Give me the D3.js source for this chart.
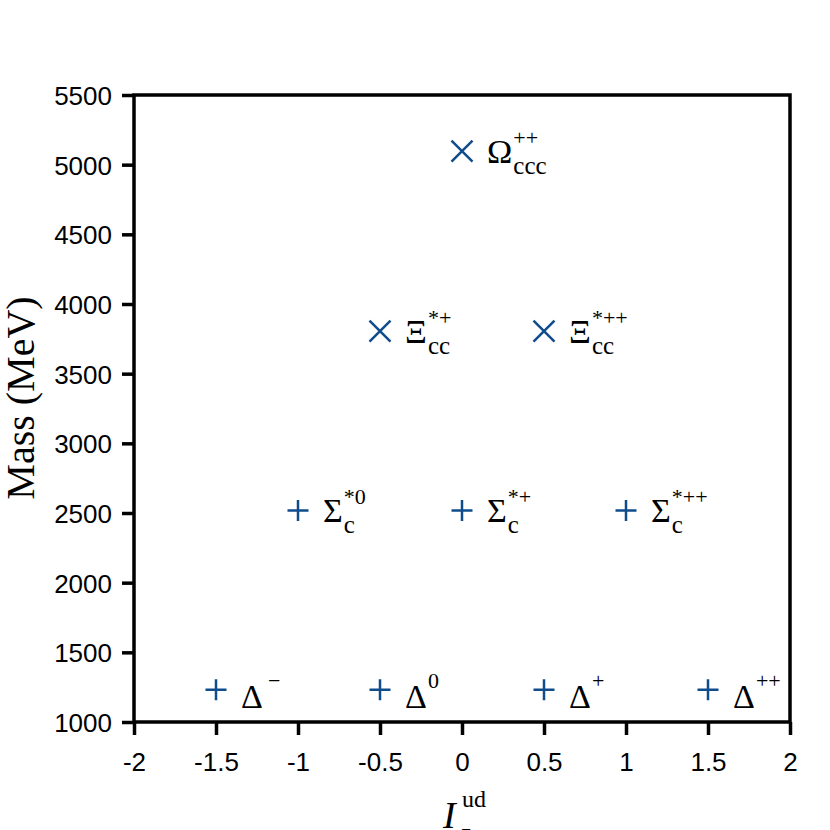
<!DOCTYPE html>
<html>
<head>
<meta charset="utf-8">
<script src="https://cdn.jsdelivr.net/npm/d3@7"></script>
<style>
  body { margin: 0; background: #fff; }
  .tick text { font-family: "Liberation Sans", Arial, sans-serif; font-size: 26px; fill: #000; }
</style>
</head>
<body>
<div id="chart"></div>
<script>
  // particle data: name, isospin component, mass (MeV)
  var baryons = ["Δ", "Δ", "Δ", "Δ", "Σ", "Σ", "Σ", "Ξ", "Ξ", "Ω"];
  var isospin = [-1.5, -0.5, 0.5, 1.5, -1, 0, 1, -0.5, 0.5, 0];
  var masses  = [1232, 1232, 1232, 1232, 2518, 2518, 2518, 3805, 3805, 5098];
  var sups    = ["\u2212", "0", "+", "++", "*0", "*+", "*++", "*+", "*++", "++"];
  var subs    = ["", "", "", "", "c", "c", "c", "cc", "cc", "ccc"];
  var markerType = ["plus", "plus", "plus", "plus", "plus", "plus", "plus", "cross", "cross", "cross"];

  var xTicks = [-2, -1.5, -1, -0.5, 0, 0.5, 1, 1.5, 2];
  var yTicks = [1000, 1500, 2000, 2500, 3000, 3500, 4000, 4500, 5000, 5500];

  var width = 830, height = 830;
  var plotLeft = 134, plotRight = 790, plotTop = 95, plotBottom = 722;
  var blue = "#0f4c8c";
  var serif = '"Liberation Serif", "Times New Roman", serif';

  var svg = d3.select('#chart').append('svg')
      .attr('width', width)
      .attr('height', height);

  var xScale = d3.scaleLinear().domain([-2, 2]).range([plotLeft, plotRight]);
  var yScale = d3.scaleLinear().domain([1000, 5500]).range([plotBottom, plotTop]);

  // axes
  var xAxis = d3.axisBottom(xScale)
      .tickValues(xTicks)
      .tickFormat(d => String(d))
      .tickSizeInner(13)
      .tickSizeOuter(0)
      .tickPadding(18);
  var yAxis = d3.axisLeft(yScale)
      .tickValues(yTicks)
      .tickFormat(d => String(d))
      .tickSizeInner(12)
      .tickSizeOuter(0)
      .tickPadding(10);

  var gx = svg.append('g')
      .attr('transform', 'translate(0,' + plotBottom + ')')
      .call(xAxis);
  var gy = svg.append('g')
      .attr('transform', 'translate(' + plotLeft + ',0)')
      .call(yAxis);
  gx.select('.domain').remove();
  gy.select('.domain').remove();
  svg.selectAll('.tick line').attr('stroke', '#000').attr('stroke-width', 3.5);
  gy.selectAll('.tick text').attr('dy', '0.36em');

  // frame
  svg.append('rect')
      .attr('x', plotLeft).attr('y', plotTop)
      .attr('width', plotRight - plotLeft).attr('height', plotBottom - plotTop)
      .attr('fill', 'none')
      .attr('stroke', '#000')
      .attr('stroke-width', 3.5);

  // axis titles
  svg.append('text')
      .attr('transform', 'translate(34,398) rotate(-90)')
      .attr('text-anchor', 'middle')
      .style('font-family', serif)
      .style('font-size', '40px')
      .text('Mass (MeV)');

  var xt = svg.append('g');
  xt.append('text')
      .attr('x', 443).attr('y', 828)
      .style('font-family', serif)
      .style('font-size', '38px')
      .style('font-style', 'italic')
      .text('I');
  xt.append('text')
      .attr('x', 462).attr('y', 807)
      .style('font-family', serif)
      .style('font-size', '24px')
      .text('ud');
  xt.append('text')
      .attr('x', 461).attr('y', 840)
      .style('font-family', serif)
      .style('font-size', '24px')
      .text('z');

  // markers
  var pts = d3.range(baryons.length);
  var s = 10.5;
  svg.selectAll('path.marker')
      .data(pts)
      .enter()
      .append('path')
        .attr('class', 'marker')
        .attr('transform', i => 'translate(' + xScale(isospin[i]) + ',' + yScale(masses[i]) + ')')
        .attr('d', i => markerType[i] === 'plus'
            ? 'M' + (-s) + ',0H' + s + 'M0,' + (-s) + 'V' + s
            : 'M' + (-s) + ',' + (-s) + 'L' + s + ',' + s + 'M' + (-s) + ',' + s + 'L' + s + ',' + (-s))
        .attr('stroke', blue)
        .attr('stroke-width', 2.5)
        .attr('fill', 'none');

  // labels
  pts.forEach(function (i) {
    var x0 = xScale(isospin[i]) + 25;
    var y0 = yScale(masses[i]) + (subs[i] ? 12 : 18);
    var main = svg.append('text')
        .attr('x', x0).attr('y', y0)
        .style('font-family', serif)
        .style('font-size', '34px')
        .text(baryons[i]);
    var w = main.node().getComputedTextLength();
    svg.append('text')
        .attr('x', x0 + w + (sups[i] === '\u2212' ? 5 : 1))
        .attr('y', y0 - (subs[i] ? 18 : 20))
        .style('font-family', serif)
        .style('font-size', '22px')
        .text(sups[i]);
    if (subs[i]) {
      svg.append('text')
          .attr('x', x0 + w + 1)
          .attr('y', y0 + 11)
          .style('font-family', serif)
          .style('font-size', '25px')
          .text(subs[i]);
    }
  });
</script>
</body>
</html>
